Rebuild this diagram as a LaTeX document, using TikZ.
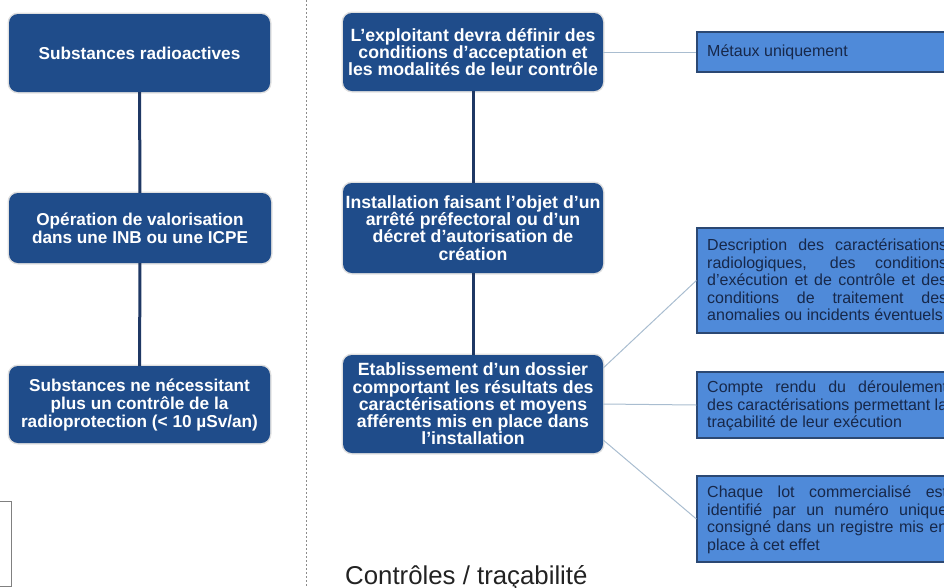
\documentclass[tikz,border=0pt]{standalone}
\usepackage{fontspec}
\setmainfont{Liberation Sans}
\usetikzlibrary{calc}
\definecolor{dkblue}{HTML}{1F4C8A}
\definecolor{vlinec}{HTML}{1F3864}
\definecolor{medblue}{HTML}{4F8AD9}
\definecolor{rborder}{HTML}{2B4873}
\definecolor{rtextc}{HTML}{17284A}
\definecolor{thinc}{HTML}{A9BDD0}
\definecolor{titlec}{HTML}{222222}
\tikzset{
  dbox/.style={rectangle, rounded corners=9pt, fill=dkblue, text=white,
    align=center, inner sep=0pt,
    preaction={draw=black!12, line width=3pt}},
  lbox/.style={dbox, font=\bfseries\fontsize{17.2pt}{18pt}\selectfont},
  mbox/.style={dbox, font=\bfseries\fontsize{17.7pt}{17.2pt}\selectfont},
  rbox/.style={rectangle, fill=medblue, draw=rborder, line width=1.2pt,
    inner sep=0pt, minimum width=262pt},
  rtext/.style={inner sep=0pt, text width=240pt, align=justify, text=rtextc,
    font=\fontsize{16pt}{17.5pt}\selectfont},
  vline/.style={draw=vlinec, line width=3pt},
  thinline/.style={draw=thinc, line width=1pt},
  divider/.style={draw=black!45, line width=0.7pt, dash pattern=on 2pt off 2pt},
}
\begin{document}
\begin{tikzpicture}[x=1pt,y=-1pt]
\useasboundingbox (0,0) rectangle (944,587);
\clip (0,0) rectangle (944,587);

% divider and fragment
\draw[divider] (306,0) -- (306,587);
\draw[draw=black!50, line width=0.8pt] (-5,501) rectangle (11,586);

% left column
\node[lbox, minimum width=261pt, minimum height=78pt] (L1) at (139.5,53) {Substances radioactives};
\node[lbox, minimum width=262pt, minimum height=70pt] (L2) at (140,228) {Opération de valorisation\\dans une INB ou une ICPE};
\node[lbox, minimum width=261pt, minimum height=77pt] (L3) at (139.5,404.5) {Substances ne nécessitant\\plus un contrôle de la\\radioprotection (< 10 µSv/an)};
\draw[vline] (L1) -- (L2);
\draw[vline] (L2) -- (L3);

% middle column
\node[mbox, minimum width=260pt, minimum height=78pt] (M1) at (473,52) {L’exploitant devra définir des\\conditions d’acceptation et\\les modalités de leur contrôle};
\node[mbox, minimum width=260pt, minimum height=90pt] (M2) at (473,228) {Installation faisant l’objet d’un\\arrêté préfectoral ou d’un\\décret d’autorisation de\\création};
\node[mbox, minimum width=260pt, minimum height=98pt] (M3) at (473,404) {Etablissement d’un dossier\\comportant les résultats des\\caractérisations et moyens\\afférents mis en place dans\\l’installation};
\draw[vline] (M1) -- (M2);
\draw[vline] (M2) -- (M3);

% right column
\node[rbox, minimum height=40pt] (R1) at (828,52) {};
\node[rbox, minimum height=105pt] (R2) at (828,280.5) {};
\node[rbox, minimum height=66pt] (R3) at (828,405) {};
\node[rbox, minimum height=86pt] (R4) at (828,519) {};

\node[rtext, anchor=west] (T1) at (707,52) {Métaux uniquement};
\node[rtext, anchor=north west] (T2) at (707,239) {\tolerance=10000\hyphenpenalty=10000 Description des caractérisations\linebreak radiologiques, des conditions\linebreak d’exécution et de contrôle et des\linebreak conditions de traitement des\linebreak anomalies ou incidents éventuels};
\node[rtext, anchor=north west] (T3) at (707,381) {\tolerance=10000\hyphenpenalty=10000 Compte rendu du déroulement\linebreak des caractérisations permettant la\linebreak traçabilité de leur exécution};
\node[rtext, anchor=north west] (T4) at (707,486) {\tolerance=10000\hyphenpenalty=10000 Chaque lot commercialisé est\linebreak identifié par un numéro unique\linebreak consigné dans un registre mis en\linebreak place à cet effet};

% connectors to right boxes
\coordinate (m3a) at ($(M3.east)+(0,-36)$);
\coordinate (m3c) at ($(M3.east)+(0,36)$);
\draw[thinline] (M1) -- (R1);
\draw[thinline] (m3a) -- (R2.west);
\draw[thinline] (M3.east) -- (R3.west);
\draw[thinline] (m3c) -- (R4.west);

% title
\node[anchor=base west, inner sep=0pt, text=titlec, font=\fontsize{25.8pt}{30pt}\selectfont] (title) at (345,584) {Contrôles / traçabilité};
\end{tikzpicture}
\end{document}
